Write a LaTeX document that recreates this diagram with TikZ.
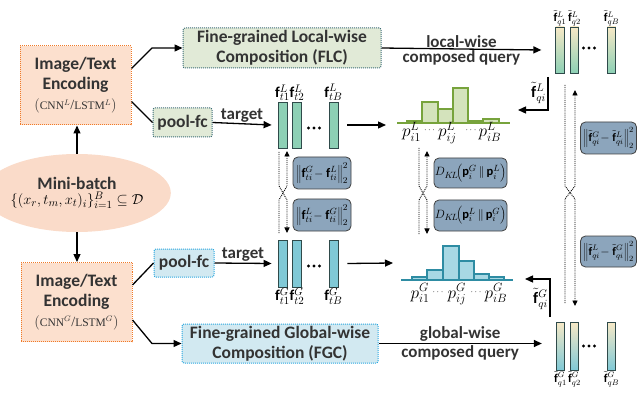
\documentclass[tikz,border=0pt]{standalone}
\usepackage{fontspec}
\setmainfont{Carlito}
\newfontfamily\serifx{Liberation Serif}
\usetikzlibrary{shapes.geometric,arrows.meta,calc}
\definecolor{peach}{HTML}{FCE0CE}
\definecolor{orangeB}{HTML}{F07A28}
\definecolor{ellfill}{HTML}{FADBC9}
\definecolor{greenbox}{HTML}{E1EAD7}
\definecolor{greenbd}{HTML}{3E6E78}
\definecolor{bluebox}{HTML}{D2E9F1}
\definecolor{bluebd}{HTML}{2BA8E0}
\definecolor{mint}{HTML}{8DD0B5}
\definecolor{cyanb}{HTML}{80C9D6}
\definecolor{beige}{HTML}{F7E9C6}
\definecolor{histLf}{HTML}{D4E3BC}
\definecolor{histLd}{HTML}{77A33C}
\definecolor{histGf}{HTML}{A8D8E4}
\definecolor{histGd}{HTML}{2E8CA3}
\definecolor{greyblue}{HTML}{8CA5BC}
\definecolor{bard}{HTML}{2F4A4A}
\definecolor{txt}{HTML}{333333}
\tikzset{
  arr/.style={-{Triangle[length=8pt,width=7pt]}, line width=1.3pt},
  plainline/.style={line width=1.3pt},
  darr/.style={densely dotted, line width=0.9pt, -{Triangle[length=5.5pt,width=5pt]}},
  bfont/.style={font=\bfseries\fontsize{17.5}{20}\selectfont, text=txt},
  encbox/.style={draw=orangeB, densely dotted, line width=1pt, fill=peach, minimum width=111pt, minimum height=79pt, inner sep=0pt, align=center, bfont},
  greenrect/.style={draw=greenbd, densely dotted, line width=1pt, fill=greenbox, rounded corners=2pt, inner sep=0pt, align=center, bfont},
  bluerect/.style={draw=bluebd, densely dotted, line width=1pt, fill=bluebox, rounded corners=2pt, inner sep=0pt, align=center, bfont},
  featL/.style={draw=bard, fill=mint, line width=0.8pt, minimum width=9pt, minimum height=46pt, inner sep=0pt},
  featG/.style={draw=bard, fill=cyanb, line width=0.8pt, minimum width=9pt, minimum height=47pt, inner sep=0pt},
  qL/.style={draw=bard, line width=0.8pt, top color=beige, bottom color=mint, minimum width=8.5pt, minimum height=46pt, inner sep=0pt},
  qG/.style={draw=bard, line width=0.8pt, top color=beige, bottom color=cyanb, minimum width=8.5pt, minimum height=48pt, inner sep=0pt},
  loss/.style={draw=black!75, fill=greyblue, rounded corners=5pt, line width=0.8pt, inner sep=0pt},
  flab/.style={inner sep=0.5pt, font=\fontsize{15}{15}\selectfont},
  qlab/.style={inner sep=0.5pt, font=\fontsize{12}{12}\selectfont},
  elab/.style={inner sep=1pt, font=\fontsize{16}{16}\selectfont},
  plab/.style={inner sep=0pt, font=\fontsize{17}{17}\selectfont, anchor=base},
  dlab/.style={inner sep=0pt, font=\fontsize{9}{9}\selectfont, anchor=base},
  hL/.style={fill=histLf, draw=histLd, line width=1.1pt},
  hG/.style={fill=histGf, draw=histGd, line width=1.1pt},
  tlab/.style={font=\bfseries\fontsize{17}{18}\selectfont, text=txt, inner sep=1pt},
}
\begin{document}
\begin{tikzpicture}[x=1pt,y=-1pt]
\useasboundingbox (0,0) rectangle (637,398);

% encoders
\node[encbox] (enc1) at (75.5,85.5) {Image/Text\\Encoding\\{\normalfont\serifx\fontsize{14}{14}\selectfont $\big($\fontsize{11.5}{11}\selectfont CNN$^{L}$\fontsize{14}{14}\selectfont/\fontsize{11.5}{11}\selectfont LSTM$^{L}$\fontsize{14}{14}\selectfont$\big)$}};
\node[encbox] (enc2) at (76.5,302) {Image/Text\\Encoding\\{\normalfont\serifx\fontsize{14}{14}\selectfont $\big($\fontsize{11.5}{11}\selectfont CNN$^{G}$\fontsize{14}{14}\selectfont/\fontsize{11.5}{11}\selectfont LSTM$^{G}$\fontsize{14}{14}\selectfont$\big)$}};

% mini-batch
\node[ellipse, fill=ellfill, minimum width=140pt, minimum height=78pt, inner sep=0pt, align=center] (mb) at (77,193)
  {{\bfseries\fontsize{17.5}{18}\selectfont\color{txt} Mini-batch}\\[1pt] {\fontsize{15}{15}\selectfont $\{(x_r,t_m,x_t)_i\}_{i=1}^{B}\subseteq\mathcal{D}$}};
\draw[arr] (mb.north) -- (mb.north |- enc1.south);
\draw[arr] (mb.south) -- (mb.south |- enc2.north);

% composition boxes
\node[greenrect, minimum width=198pt, minimum height=40pt] (flc) at (282,48) {Fine-grained Local-wise\\Composition (FLC)};
\node[bluerect, minimum width=196pt, minimum height=39pt] (fgc) at (280,343.5) {Fine-grained Global-wise\\Composition (FGC)};
\node[greenrect, minimum width=59pt, minimum height=29pt] (pool1) at (182.5,122.5) {pool-fc};
\node[bluerect, minimum width=60pt, minimum height=28pt] (pool2) at (184,263) {pool-fc};

\draw[arr] ([yshift=17pt]enc1.east) -- (152,48) -- (flc.west);
\draw[plainline] ([yshift=-16pt]enc1.east) -- (pool1.west);
\draw[plainline] ([yshift=17pt]enc2.east) -- (pool2.west);
\draw[arr] ([yshift=-18pt]enc2.east) -- (152,343.5) -- (fgc.west);

% target features
\node[featL] (b1t) at (282.5,125) {};
\node[featL] (b2t) at (297,125) {};
\node[featL] (b3t) at (333.5,125) {};
\node[featG] (b1g) at (282.5,263.5) {};
\node[featG] (b2g) at (297,263.5) {};
\node[featG] (b3g) at (333.5,263.5) {};
\foreach \x in {308.5,314,319.5}{\fill (\x,128) circle (1.7pt); \fill (\x,266) circle (1.7pt);}
\node[flab, anchor=south] (l1t) at (b1t.north) {$\mathbf{f}_{t1}^{L}$};
\node[flab, anchor=south] (l2t) at (b2t.north) {$\mathbf{f}_{t2}^{L}$};
\node[flab, anchor=south] (l3t) at (b3t.north) {$\mathbf{f}_{tB}^{L}$};
\node[flab, anchor=north] (l1g) at (b1g.south) {$\mathbf{f}_{t1}^{G}$};
\node[flab, anchor=north] (l2g) at (b2g.south) {$\mathbf{f}_{t2}^{G}$};
\node[flab, anchor=north] (l3g) at (b3g.south) {$\mathbf{f}_{tB}^{G}$};

\draw[arr] (pool1.east) -- node[above, tlab] (tg1) {target} ([xshift=-6pt]b1t.west);
\draw[arr] (pool2.east) -- node[above, tlab] (tg2) {target} ([xshift=-6pt]b1g.west);

% histograms
\coordinate (hLin) at (386,125);
\coordinate (hGin) at (393,263);
\draw[arr] ([xshift=9pt]b3t.east) -- (hLin);
\draw[arr] ([xshift=9pt]b3g.east) -- (hGin);

\filldraw[hL] (407,123) rectangle (422,121);
\filldraw[hL] (422,123) rectangle (438,102);
\filldraw[hL] (438,123) rectangle (453,109);
\filldraw[hL] (453,123) rectangle (468,88);
\filldraw[hL] (468,123) rectangle (483,121);
\filldraw[hL] (483,123) rectangle (499,119);
\draw[histLd, line width=1.4pt] (397,123) -- (510,123);

\filldraw[hG] (412,280) rectangle (427,277);
\filldraw[hG] (427,280) rectangle (443,270);
\filldraw[hG] (443,280) rectangle (459,246);
\filldraw[hG] (459,280) rectangle (474,261);
\filldraw[hG] (474,280) rectangle (489,274);
\filldraw[hG] (489,280) rectangle (504,277);
\draw[histGd, line width=1.4pt] (401,280) -- (513,280);

\node[plab] (p1L) at (411.5,137) {$p_{i1}^{L}$};
\node[dlab] (d1L) at (429.5,133) {$\cdots$};
\node[plab] (pjL) at (447.5,137) {$p_{ij}^{L}$};
\node[dlab] (d2L) at (471,133) {$\cdots$};
\node[plab] (pBL) at (490,137) {$p_{iB}^{L}$};

\node[plab] (p1G) at (420,298) {$p_{i1}^{G}$};
\node[dlab] (d1G) at (438,294) {$\cdots$};
\node[plab] (pjG) at (457,298) {$p_{ij}^{G}$};
\node[dlab] (d2G) at (476,294) {$\cdots$};
\node[plab] (pBG) at (496,298) {$p_{iB}^{G}$};

% composed query features
\node[qL] (q1L) at (560,50) {};
\node[qL] (q2L) at (574.5,50) {};
\node[qL] (q3L) at (611.5,50) {};
\node[qG] (q1G) at (560.5,346) {};
\node[qG] (q2G) at (574.5,346) {};
\node[qG] (q3G) at (611.5,346) {};
\foreach \x in {583.5,589,594.5}{\fill (\x,48) circle (1.7pt); \fill (\x,346) circle (1.7pt);}
\node[qlab, anchor=south] (lq1L) at (q1L.north) {$\tilde{\mathbf{f}}_{q1}^{L}$};
\node[qlab, anchor=south] (lq2L) at (q2L.north) {$\tilde{\mathbf{f}}_{q2}^{L}$};
\node[qlab, anchor=south] (lq3L) at (q3L.north) {$\tilde{\mathbf{f}}_{qB}^{L}$};
\node[qlab, anchor=north] (lq1G) at (q1G.south) {$\tilde{\mathbf{f}}_{q1}^{G}$};
\node[qlab, anchor=north] (lq2G) at (q2G.south) {$\tilde{\mathbf{f}}_{q2}^{G}$};
\node[qlab, anchor=north] (lq3G) at (q3G.south) {$\tilde{\mathbf{f}}_{qB}^{G}$};

\draw[arr] (flc.east) -- node[above, tlab] (lw) {local-wise} node[below, tlab] (cq1) {composed query} ([xshift=-14pt]q1L.west);
\draw[arr] (fgc.east) -- node[above, tlab] (gw) {global-wise} node[below, tlab] (cq2) {composed query} ([xshift=-14pt]q1G.west |- fgc.east);

\coordinate (eL1) at (548,77);
\coordinate (eL2) at (548,110);
\coordinate (eL3) at (518,110);
\draw[arr] (eL1) -- (eL2) -- (eL3);
\node[elab, anchor=east] (fqiL) at (547,93) {$\tilde{\mathbf{f}}_{qi}^{L}$};
\coordinate (eG1) at (550,317);
\coordinate (eG2) at (550,279);
\coordinate (eG3) at (525,279);
\draw[arr] (eG1) -- (eG2) -- (eG3);
\node[elab, anchor=east] (fqiG) at (549,299) {$\tilde{\mathbf{f}}_{qi}^{G}$};

% dotted crossing arrows
\draw[darr] (279,152) -- (279,186) -- (287,200) -- (287,233);
\draw[darr] (279,233) -- (279,200) -- (287,186) -- (287,151);
\draw[darr] (419,148) -- (419,186) -- (427,200) -- (427,234);
\draw[darr] (419,234) -- (419,200) -- (427,186) -- (427,151);
\draw[darr] (565,85) -- (565,186) -- (575,199) -- (575,306);
\draw[darr] (565,303) -- (565,199) -- (575,186) -- (575,90);

% loss boxes
\node[loss, minimum width=58pt, minimum height=32pt, font=\fontsize{13}{13}\selectfont] (g1) at (322,173) {$\Bigl\|\mathbf{f}_{ti}^{G}\!-\mathbf{f}_{ti}^{L}\Bigr\|_2^2$};
\node[loss, minimum width=58pt, minimum height=32pt, font=\fontsize{13}{13}\selectfont] (g2) at (322,215) {$\Bigl\|\mathbf{f}_{ti}^{L}\!-\mathbf{f}_{ti}^{G}\Bigr\|_2^2$};
\node[loss, minimum width=73pt, minimum height=30pt, font=\fontsize{12.5}{12}\selectfont] (k1) at (470.5,173) {$D_{K\!L}\!\Bigl(\mathbf{p}_i^{G}\,\|\,\mathbf{p}_i^{L}\Bigr)$};
\node[loss, minimum width=73pt, minimum height=31pt, font=\fontsize{12.5}{12}\selectfont] (k2) at (470.5,215.5) {$D_{K\!L}\!\Bigl(\mathbf{p}_i^{L}\,\|\,\mathbf{p}_i^{G}\Bigr)$};
\node[loss, minimum width=56pt, minimum height=32pt, font=\fontsize{11.5}{11}\selectfont] (r1) at (608.5,138) {$\Bigl\|\tilde{\mathbf{f}}_{qi}^{G}\!-\tilde{\mathbf{f}}_{qi}^{L}\Bigr\|_2^2$};
\node[loss, minimum width=56pt, minimum height=31pt, font=\fontsize{11.5}{11}\selectfont] (r2) at (608.5,251.5) {$\Bigl\|\tilde{\mathbf{f}}_{qi}^{L}\!-\tilde{\mathbf{f}}_{qi}^{G}\Bigr\|_2^2$};
\end{tikzpicture}
\end{document}
